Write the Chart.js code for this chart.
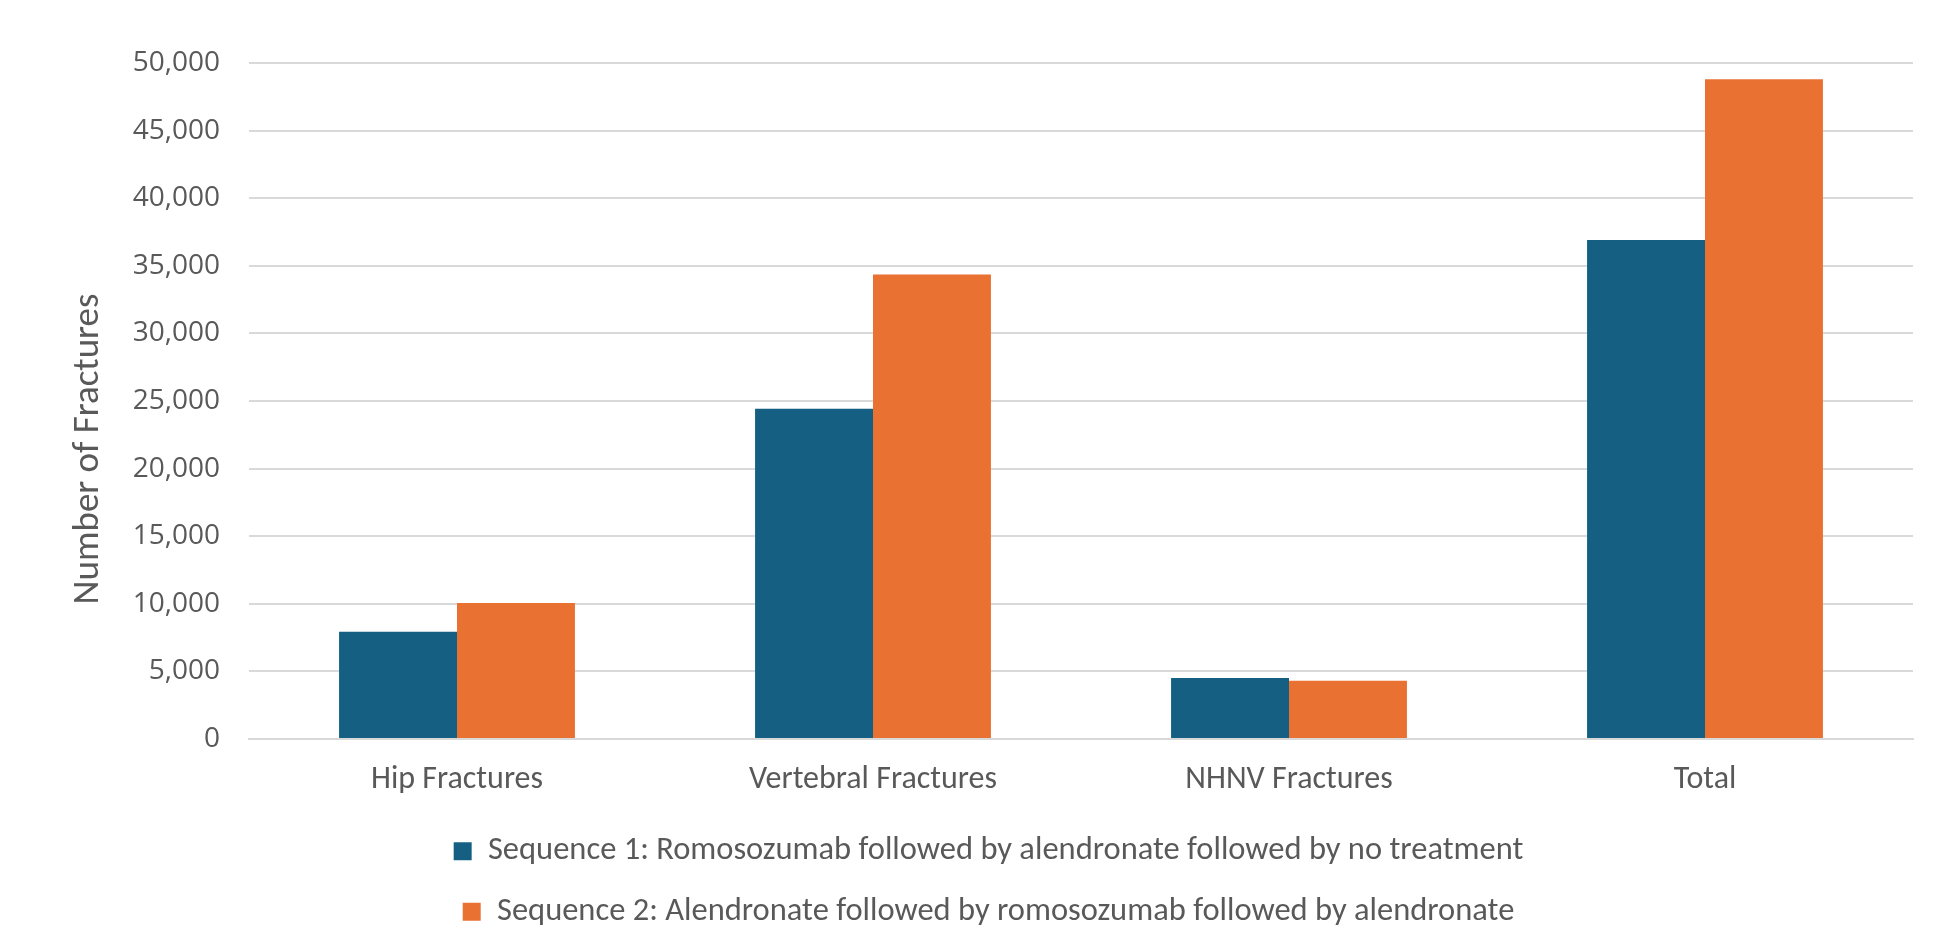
<!DOCTYPE html>
<html>
<head>
<meta charset="utf-8">
<title>Number of Fractures by Treatment Sequence</title>
<script src="https://cdn.jsdelivr.net/npm/chart.js@4/dist/chart.umd.min.js"></script>
<style>
  html, body { margin: 0; padding: 0; background: #ffffff; }
  #wrap { width: 1939px; height: 929px; position: relative; }
</style>
</head>
<body>
<div id="wrap"><canvas id="chart" width="1939" height="929"></canvas></div>
<script>
// Fracture categories on the x axis
const categories = ['Hip Fractures', 'Vertebral Fractures', 'NHNV Fractures', 'Total'];

// Series labels
const seq1Label = 'Sequence 1: Romosozumab followed by alendronate followed by no treatment';
const seq2Label = 'Sequence 2: Alendronate followed by romosozumab followed by alendronate';

// Number of fractures per sequence
const seq1Values = [7930, 24430, 4520, 36900];
const seq2Values = [10050, 34350, 4300, 48800];

// Y axis range and step
const yMin = 0;
const yMax = 50000;
const yStep = 5000;
const yTitle = 'Number of Fractures';

const labelFont = 'Carlito, Calibri, Lato, sans-serif';
const numberFont = '"Segoe UI", "Open Sans", sans-serif';
const textGrey = '#595959';
const gridGrey = '#d9d9d9';

// Rotated y axis title, drawn in the space the y scale reserves on its left
const yTitlePlugin = {
  id: 'yTitle',
  afterDraw(chart) {
    const { ctx, chartArea, scales } = chart;
    const s = scales.y;
    ctx.save();
    ctx.font = '37px ' + labelFont;
    ctx.fillStyle = textGrey;
    ctx.textAlign = 'center';
    ctx.textBaseline = 'middle';
    ctx.translate(s.left + 25, (chartArea.top + chartArea.bottom) / 2 + 48);
    ctx.rotate(-Math.PI / 2);
    ctx.fillText(yTitle, 0, 0);
    ctx.restore();
  }
};

new Chart(document.getElementById('chart'), {
  type: 'bar',
  data: {
    labels: categories,
    datasets: [
      { label: seq1Label, data: seq1Values, backgroundColor: '#156082', borderWidth: 0 },
      { label: seq2Label, data: seq2Values, backgroundColor: '#E97132', borderWidth: 0 }
    ]
  },
  plugins: [yTitlePlugin],
  options: {
    responsive: false,
    animation: false,
    devicePixelRatio: 1,
    layout: { padding: { top: 63, right: 26, left: 64, bottom: -9 } },
    datasets: { bar: { categoryPercentage: 0.567, barPercentage: 1.0 } },
    plugins: {
      tooltip: { enabled: false },
      legend: {
        position: 'bottom',
        labels: {
          boxWidth: 18,
          boxHeight: 18,
          padding: 28,
          color: textGrey,
          font: { family: labelFont, size: 32.5 }
        }
      }
    },
    scales: {
      x: {
        afterFit: (scale) => { scale.height = 68; },
        grid: { display: false, drawTicks: false },
        border: { display: true, color: gridGrey, width: 2 },
        ticks: {
          color: textGrey,
          padding: 22,
          maxRotation: 0,
          font: { family: labelFont, size: 32 }
        }
      },
      y: {
        min: yMin,
        max: yMax,
        afterFit: (scale) => { scale.width = 185; },
        grid: { color: gridGrey, lineWidth: 2, drawTicks: false },
        border: { display: false },
        ticks: {
          stepSize: yStep,
          color: textGrey,
          padding: 29,
          font: { family: numberFont, size: 28 },
          callback: (v) => v.toLocaleString('en-US')
        }
      }
    }
  }
});
</script>
</body>
</html>
